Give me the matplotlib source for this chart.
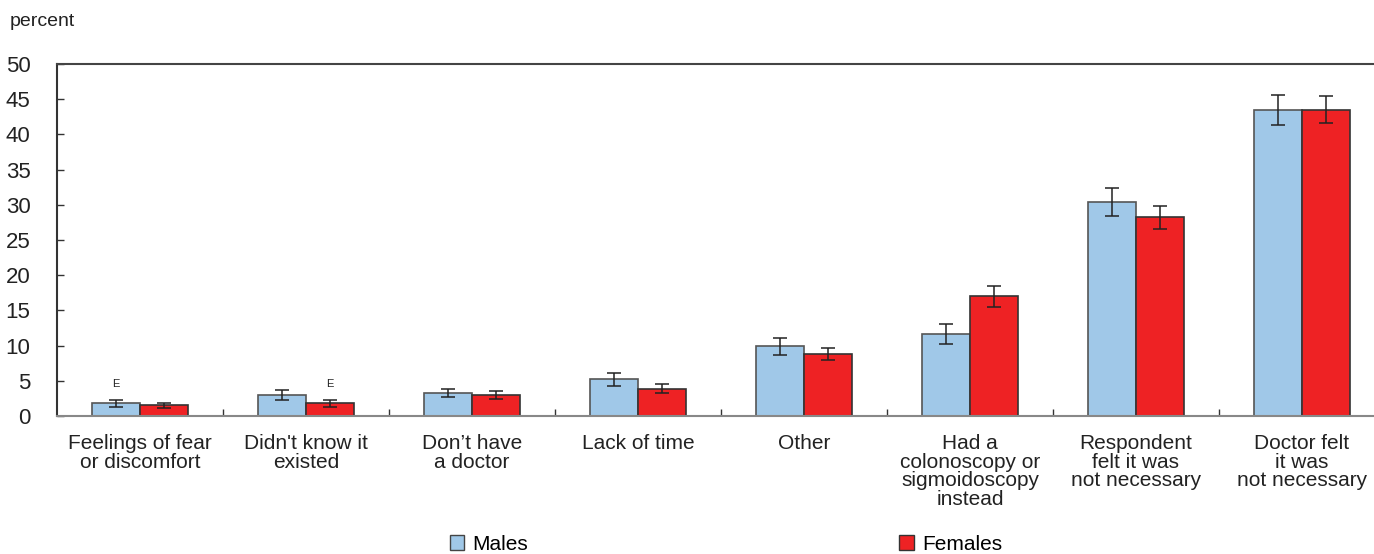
import matplotlib
matplotlib.use("Agg")
import matplotlib.pyplot as plt
import numpy as np
from matplotlib.patches import Patch

plt.rcParams['font.family'] = ['Liberation Sans', 'DejaVu Sans']

# reasons for not having a stool test
categories = ["Feelings of fear\nor discomfort", "Didn't know it\nexisted",
              "Don\u2019t have\na doctor", "Lack of time", "Other",
              "Had a\ncolonoscopy or\nsigmoidoscopy\ninstead",
              "Respondent\nfelt it was\nnot necessary",
              "Doctor felt\nit was\nnot necessary"]
males = [1.8, 3.0, 3.3, 5.2, 9.9, 11.6, 30.4, 43.5]
males_err = [0.5, 0.7, 0.6, 0.9, 1.2, 1.4, 2.0, 2.1]
females = [1.5, 1.8, 3.0, 3.9, 8.8, 17.0, 28.2, 43.5]
females_err = [0.35, 0.5, 0.6, 0.6, 0.9, 1.5, 1.7, 1.95]
# "E" flags (use with caution) per category
males_flag = ["E", "", "", "", "", "", "", ""]
females_flag = ["", "E", "", "", "", "", "", ""]

blue = "#a0c8e8"
red = "#ee2224"

fig = plt.figure(figsize=(13.74, 5.54), dpi=100)
ax = fig.add_axes([57 / 1374, 138 / 554, 1328 / 1374, 352 / 554])

x = np.arange(len(categories))
w = 0.29
ax.bar(x - w / 2, males, width=w, color=blue, edgecolor="#555555", linewidth=1.2, zorder=2)
ax.bar(x + w / 2, females, width=w, color=red, edgecolor="#333333", linewidth=1.2, zorder=2)
ax.errorbar(x - w / 2, males, yerr=males_err, fmt="none", ecolor="#222222",
            elinewidth=1.1, capsize=5, capthick=1.1, zorder=3)
ax.errorbar(x + w / 2, females, yerr=females_err, fmt="none", ecolor="#222222",
            elinewidth=1.1, capsize=5, capthick=1.1, zorder=3)

for i in range(len(categories)):
    if males_flag[i]:
        ax.text(x[i] - w / 2, males[i] + males_err[i] + 1.5, males_flag[i],
                ha="center", va="bottom", fontsize=8, color="#222222")
    if females_flag[i]:
        ax.text(x[i] + w / 2, females[i] + females_err[i] + 1.5, females_flag[i],
                ha="center", va="bottom", fontsize=8, color="#222222")

ax.set_xlim(-0.5, len(categories) - 0.5)
ax.set_ylim(0, 50)
ax.set_yticks(range(0, 51, 5))
ax.tick_params(axis="y", direction="in", length=5, width=1, color="#333333",
               labelsize=16, pad=19, labelcolor="#222222")

# category labels + separator ticks
ax.set_xticks(x)
ax.set_xticklabels(categories, fontsize=15, color="#222222", linespacing=0.98)
ax.tick_params(axis="x", length=0, pad=13)
ax.set_xticks(np.arange(0.5, len(categories) - 0.5, 1), minor=True)
ax.tick_params(axis="x", which="minor", direction="in", length=5, width=1, color="#333333")

ax.spines["right"].set_visible(False)
ax.spines["top"].set_color("#444444")
ax.spines["left"].set_color("#333333")
ax.spines["bottom"].set_color("#888888")
for s in ["top", "left", "bottom"]:
    ax.spines[s].set_linewidth(1.5)

fig.text(10 / 1374, 1 - 22 / 554, "percent", fontsize=14, va="center", color="#222222")

handles = [Patch(facecolor=blue, edgecolor="#444444", label="Males"),
           Patch(facecolor=red, edgecolor="#333333", label="Females")]
fig.legend(handles=handles, loc="center", bbox_to_anchor=(726 / 1374, 1 - 544 / 554),
           ncol=2, frameon=False, fontsize=15, columnspacing=17.8, handlelength=0.7,
           handleheight=0.7, handletextpad=0.4)

fig.savefig("out.png", dpi=100)
